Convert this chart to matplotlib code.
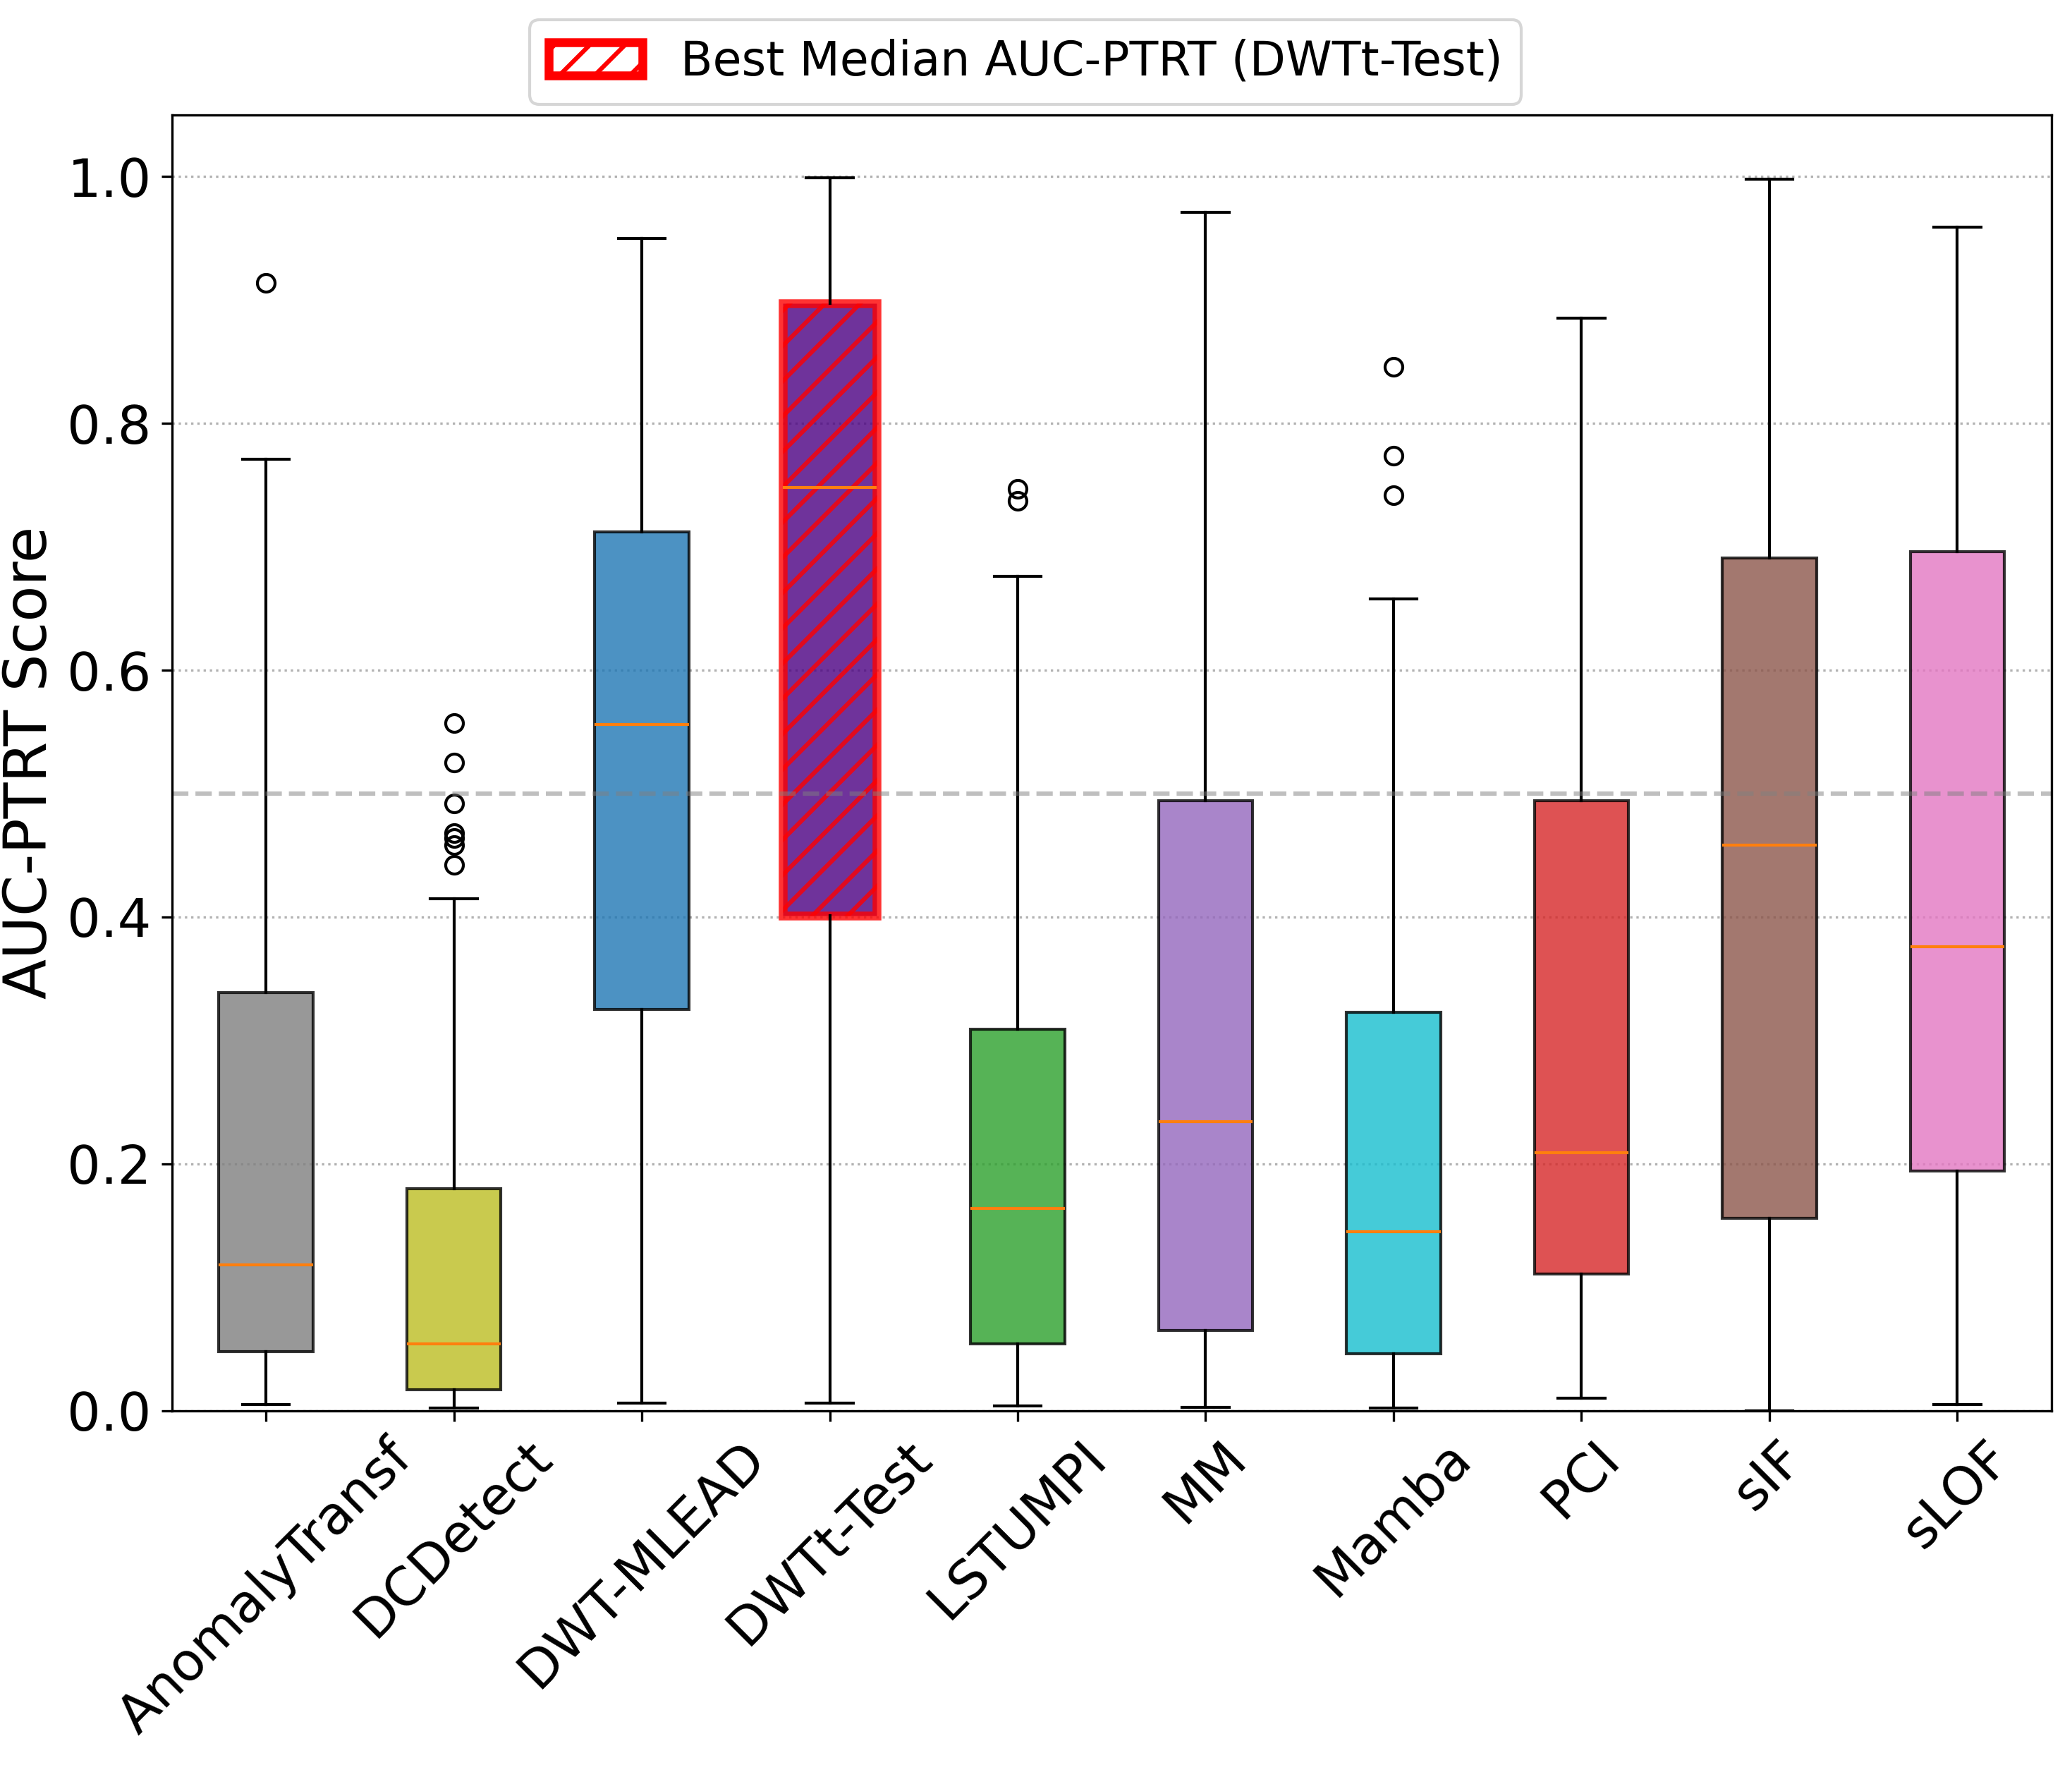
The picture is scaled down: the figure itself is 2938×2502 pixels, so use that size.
import numpy as np
import matplotlib.pyplot as plt
from matplotlib.patches import Patch

methods = ["AnomalyTransf", "DCDetect", "DWT-MLEAD", "DWTt-Test", "LSTUMPI",
           "MM", "Mamba", "PCI", "sIF", "sLOF"]
colors = ["#7f7f7f", "#bcbd22", "#1f77b4", "indigo", "#2ca02c",
          "#9467bd", "#17becf", "#d62728", "#8c564b", "#e377c2"]

# box statistics
whislo = [0.005, 0.002, 0.006, 0.006, 0.004, 0.003, 0.002, 0.010, 0.000, 0.005]
q1 = [0.048, 0.017, 0.325, 0.401, 0.054, 0.065, 0.046, 0.111, 0.156, 0.194]
med = [0.118, 0.054, 0.556, 0.748, 0.164, 0.234, 0.145, 0.209, 0.458, 0.376]
q3 = [0.339, 0.180, 0.712, 0.897, 0.309, 0.494, 0.323, 0.494, 0.691, 0.696]
whishi = [0.771, 0.415, 0.950, 0.999, 0.676, 0.971, 0.658, 0.885, 0.998, 0.959]
fliers = [[0.914],
          [0.557, 0.525, 0.492, 0.468, 0.464, 0.458, 0.442],
          [], [],
          [0.747, 0.737],
          [],
          [0.846, 0.774, 0.742],
          [], [], []]
best = "DWTt-Test"

stats = []
for i, m in enumerate(methods):
    stats.append(dict(label=m, whislo=whislo[i], q1=q1[i], med=med[i],
                      q3=q3[i], whishi=whishi[i], fliers=fliers[i]))

plt.rcParams["hatch.linewidth"] = 1.5

fig = plt.figure(figsize=(2938/300, 2502/300), dpi=300)
ax = fig.add_axes([0.083, 0.2007, 0.907, 0.7343])

bp = ax.bxp(stats, positions=np.arange(1, len(methods)+1), widths=0.5,
            patch_artist=True, showfliers=True)
for i, box in enumerate(bp["boxes"]):
    box.set_facecolor(colors[i])
    if methods[i] == best:
        box.set_edgecolor("red")
        box.set_linewidth(3)
        box.set_hatch("//")
    box.set_alpha(0.8)

ax.axhline(0.5, color="gray", linestyle="--", alpha=0.5, linewidth=1.5)
ax.yaxis.grid(True, linestyle=":", color="gray", alpha=0.6)
ax.set_axisbelow(True)
ax.set_ylim(0, 1.05)
ax.set_xlim(0.5, 10.5)
ax.set_ylabel("AUC-PTRT Score", fontsize=20, labelpad=3)
ax.tick_params(axis="y", labelsize=18)
ax.tick_params(axis="x", labelsize=18)
plt.setp(ax.get_xticklabels(), rotation=45)

handle = Patch(facecolor="white", edgecolor="red", hatch="//", linewidth=3,
               label="Best Median AUC-PTRT (DWTt-Test)")
fig.legend(handles=[handle], loc="upper center", bbox_to_anchor=(0.495, 1.002),
           fontsize=16)

fig.savefig("out.png", dpi=300)
